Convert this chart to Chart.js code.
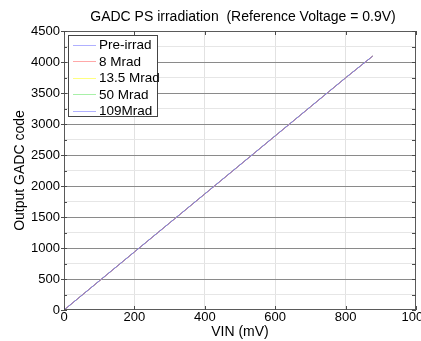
<!DOCTYPE html>
<html>
<head>
<meta charset="utf-8">
<script src="https://cdn.jsdelivr.net/npm/chart.js@4.4.1/dist/chart.umd.min.js"></script>
<style>
html,body{margin:0;padding:0;background:#fff;overflow:hidden;}
#wrap{width:440px;height:341px;}
</style>
</head>
<body>
<div id="wrap"><canvas id="c" width="440" height="341"></canvas></div>
<script>
// ---- data ----
const chartTitle = 'GADC PS irradiation  (Reference Voltage = 0.9V)';
const xTitle = 'VIN (mV)';
const yTitle = 'Output GADC code';
const seriesLabels = ['Pre-irrad', '8 Mrad', '13.5 Mrad', '50 Mrad', '109Mrad'];
const vinMv = [0, 100, 200, 300, 400, 500, 600, 700, 800, 877];
const preIrrad = [0, 468, 936, 1404, 1872, 2340, 2808, 3276, 3744, 4095];
const mrad8    = [0, 467, 935, 1403, 1871, 2339, 2807, 3275, 3743, 4095];
const mrad13_5 = [0, 467, 936, 1404, 1871, 2340, 2808, 3276, 3745, 4095];
const mrad50   = [0, 468, 937, 1405, 1873, 2341, 2809, 3277, 3746, 4095];
const mrad109  = [0, 469, 937, 1405, 1873, 2342, 2810, 3278, 3746, 4095];
const xTicks = [0, 200, 400, 600, 800, 1000];
const yTicks = [0, 500, 1000, 1500, 2000, 2500, 3000, 3500, 4000, 4500];

// ---- styles ----
const lineColors = ['#7a7ae6', '#f08080', '#e6e070', '#80d080', '#7474de'];
const legendColors = ['#b0b0ff', '#ffa8a8', '#ffff80', '#a8f0a8', '#b0b0ff'];
const FONT = '"Liberation Sans", Arial, sans-serif';

const allSeries = [preIrrad, mrad8, mrad13_5, mrad50, mrad109];
const datasets = allSeries.map((s, i) => ({
  label: seriesLabels[i],
  data: vinMv.map((x, j) => ({x: x, y: s[j]})),
  borderColor: lineColors[i],
  backgroundColor: lineColors[i],
  borderWidth: 1,
  pointRadius: 0,
  fill: false,
  tension: 0
}));

const decor = {
  id: 'decor',
  afterDatasetsDraw(chart) {
    const ctx = chart.ctx;
    const a = chart.chartArea;
    const xs = chart.scales.x, ys = chart.scales.y;
    ctx.save();
    // box
    ctx.strokeStyle = '#5a5a5a';
    ctx.lineWidth = 1;
    ctx.strokeRect(Math.round(a.left) + 0.5, Math.round(a.top) + 0.5,
                   Math.round(a.right - a.left) - 1, Math.round(a.bottom - a.top) - 1);
    // y ticks
    ctx.strokeStyle = '#4a4a4a';
    ys.ticks.forEach(t => {
      const y = Math.round(ys.getPixelForValue(t.value)) + 0.5;
      const major = yTicks.includes(t.value);
      ctx.beginPath();
      if (major) {
        ctx.moveTo(a.left - 3, y); ctx.lineTo(a.left + 3, y);
        ctx.moveTo(a.right - 4, y); ctx.lineTo(a.right, y);
      } else {
        ctx.moveTo(a.left, y); ctx.lineTo(a.left + 3, y);
        ctx.moveTo(a.right - 4, y); ctx.lineTo(a.right, y);
      }
      ctx.stroke();
    });
    // x ticks
    xTicks.forEach(v => {
      const x = Math.round(xs.getPixelForValue(v)) + 0.5;
      ctx.beginPath();
      ctx.moveTo(x, a.bottom); ctx.lineTo(x, a.bottom - 4);
      ctx.moveTo(x, a.top); ctx.lineTo(x, a.top + 4);
      ctx.stroke();
    });
    // title
    ctx.fillStyle = '#000';
    ctx.font = '14px ' + FONT;
    ctx.textAlign = 'center';
    ctx.textBaseline = 'alphabetic';
    ctx.fillText(chartTitle, (a.left + a.right) / 2 + 3, 21);
    // legend
    const lx = a.left + 4, ly = a.top + 4, lw = 89, lh = 81;
    ctx.fillStyle = '#fff';
    ctx.fillRect(lx, ly, lw, lh);
    ctx.strokeStyle = '#444';
    ctx.strokeRect(lx + 0.5, ly + 0.5, lw, lh);
    ctx.font = '13.5px ' + FONT;
    ctx.textAlign = 'left';
    ctx.textBaseline = 'middle';
    chart.data.datasets.forEach((d, i) => {
      const cy = ly + 9.5 + i * 16.5;
      ctx.strokeStyle = legendColors[i];
      ctx.lineWidth = 1;
      ctx.beginPath();
      ctx.moveTo(lx + 5, Math.round(cy) + 0.5);
      ctx.lineTo(lx + 28, Math.round(cy) + 0.5);
      ctx.stroke();
      ctx.fillStyle = '#000';
      ctx.fillText(d.label, lx + 31, cy + 1);
    });
    ctx.restore();
  }
};

new Chart(document.getElementById('c'), {
  type: 'line',
  data: {datasets: datasets},
  plugins: [decor],
  options: {
    responsive: false,
    animation: false,
    layout: {padding: {left: 0, right: 24, top: 31, bottom: 0}},
    plugins: {legend: {display: false}, title: {display: false}, tooltip: {enabled: false}},
    scales: {
      x: {
        type: 'linear', min: 0, max: 1000,
        afterBuildTicks(s) { s.ticks = xTicks.map(v => ({value: v})); },
        afterFit(s) { s.height = 31; },
        ticks: {padding: 0, color: '#000', font: {family: FONT, size: 13}, maxRotation: 0, autoSkip: false,
                callback: v => String(v)},
        grid: {
          drawTicks: false,
          color: c => (c.tick && (c.tick.value === 0 || c.tick.value === 1000)) ? 'rgba(0,0,0,0)' : '#e2e2e2'
        },
        border: {display: false},
        title: {display: true, text: xTitle, color: '#000', font: {family: FONT, size: 14}, padding: {top: 0, bottom: 0}}
      },
      y: {
        type: 'linear', min: 0, max: 4500,
        afterBuildTicks(s) {
          const t = [];
          for (let i = 0; i < yTicks.length; i++) {
            t.push({value: yTicks[i]});
            if (i < yTicks.length - 1) t.push({value: (yTicks[i] + yTicks[i + 1]) / 2});
          }
          s.ticks = t;
        },
        afterFit(s) { s.width = 64; },
        ticks: {
          padding: 4, color: '#000', font: {family: FONT, size: 13}, autoSkip: false,
          callback: v => yTicks.includes(v) ? String(v) : ''
        },
        grid: {
          drawTicks: false,
          color: c => {
            const v = c.tick ? c.tick.value : -1;
            if (v === 0 || v === 4500) return 'rgba(0,0,0,0)';
            return yTicks.includes(v) ? '#8a8a8a' : '#e6e6e6';
          }
        },
        border: {display: false},
        title: {display: true, text: yTitle, color: '#000', font: {family: FONT, size: 14}, padding: {top: 12, bottom: 0}}
      }
    }
  }
});
</script>
</body>
</html>
